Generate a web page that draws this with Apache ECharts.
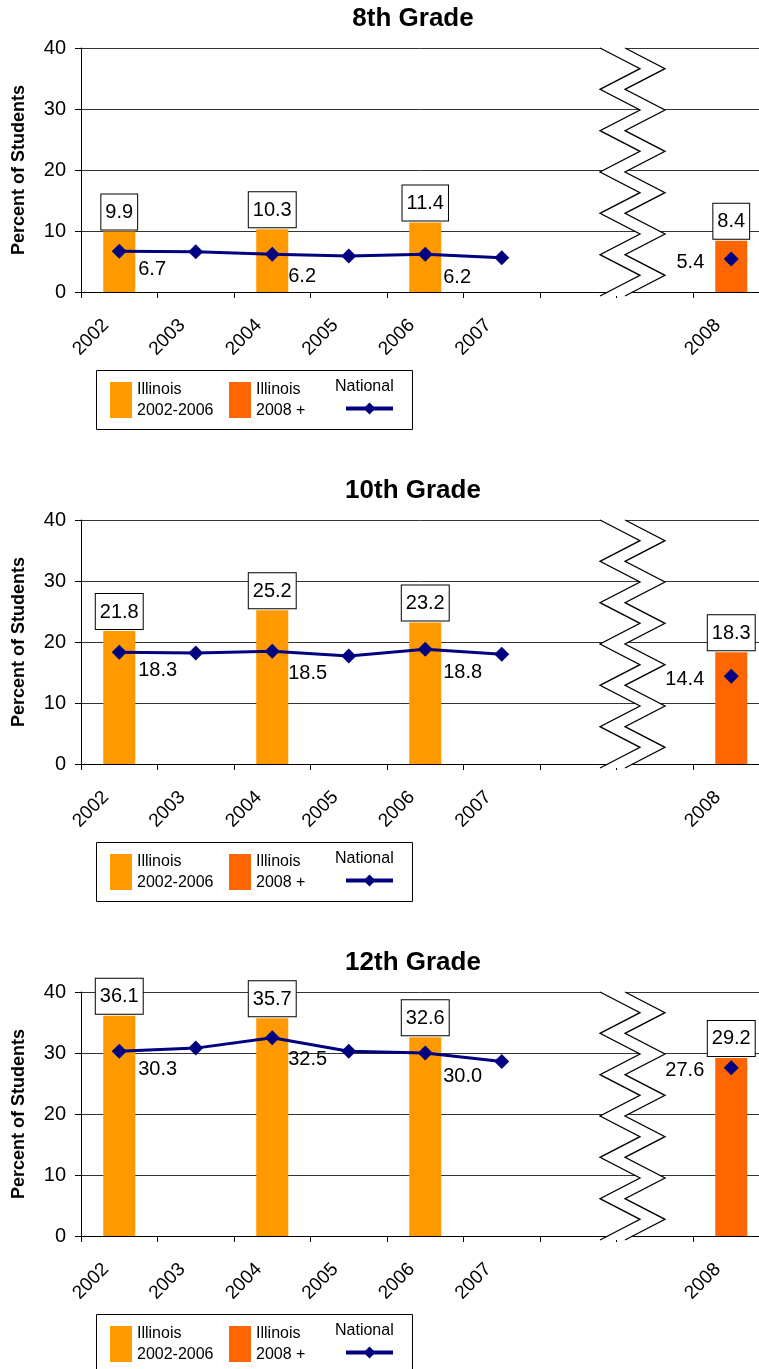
<!DOCTYPE html>
<html>
<head>
<meta charset="utf-8">
<script src="https://cdn.jsdelivr.net/npm/echarts@6/dist/echarts.min.js"></script>
<style>
html,body{margin:0;padding:0;background:#fff;}
#chart{width:759px;height:1369px;}
</style>
</head>
<body>
<div id="chart"></div>
<script>
// ---------- data ----------
const categories = ['2002', '2003', '2004', '2005', '2006', '2007', '', '', '2008'];
const panelTitles = ['8th Grade', '10th Grade', '12th Grade'];
const yAxisName = 'Percent of Students';
const seriesNames = ['Illinois 2002-2006', 'Illinois 2008 +', 'National'];

const g8Illinois      = [9.9, null, 10.3, null, 11.4, null, null, null, null];
const g8Illinois2008  = [null, null, null, null, null, null, null, null, 8.4];
const g8National      = [6.7, 6.6, 6.2, 5.9, 6.2, 5.6, null, null, 5.4];

const g10Illinois     = [21.8, null, 25.2, null, 23.2, null, null, null, null];
const g10Illinois2008 = [null, null, null, null, null, null, null, null, 18.3];
const g10National     = [18.3, 18.2, 18.5, 17.7, 18.8, 18.0, null, null, 14.4];

const g12Illinois     = [36.1, null, 35.7, null, 32.6, null, null, null, null];
const g12Illinois2008 = [null, null, null, null, null, null, null, null, 29.2];
const g12National     = [30.3, 30.8, 32.5, 30.3, 30.0, 28.6, null, null, 27.6];

// which National points carry a value label
const nationalLabelled = [true, false, true, false, true, false, false, false, true];

// ---------- layout / style ----------
const FONT = "'Liberation Sans', Arial, Helvetica, sans-serif";
const PANEL_STEP = 472;
const GRID_TOP = 48, GRID_H = 244, GRID_LEFT = 81, GRID_W = 688.5;
const NAVY = '#000080', ORANGE = '#FF9900', DARK_ORANGE = '#FF6600';
// label offsets for the labelled national points (index -> [dx, dy, align])
const natLabelPos = {0: [19, 18, 'left'], 2: [16, 22, 'left'], 4: [18, 23, 'left'], 8: [-27, 3, 'right']};
const fmt1 = p => (p.value == null ? '' : Number(p.value).toFixed(1));

const panels = [
  {title: panelTitles[0], il: g8Illinois,  il08: g8Illinois2008,  nat: g8National},
  {title: panelTitles[1], il: g10Illinois, il08: g10Illinois2008, nat: g10National},
  {title: panelTitles[2], il: g12Illinois, il08: g12Illinois2008, nat: g12National}
];

const chart = echarts.init(document.getElementById('chart'), null, {renderer: 'canvas'});

const title = [], grid = [], xAxis = [], yAxis = [], series = [], legend = [], graphic = [];

const barLabel = {
  show: true, position: 'top', distance: 2, formatter: fmt1,
  fontSize: 20, lineHeight: 20, color: '#000', fontFamily: FONT,
  backgroundColor: '#fff', borderColor: '#000', borderWidth: 1,
  padding: [8, 4, 7, 4]
};

panels.forEach((p, i) => {
  const dy = PANEL_STEP * i;
  const top = GRID_TOP + dy;
  title.push({
    text: p.title, left: 413, top: 6 + dy, textAlign: 'center', padding: 0,
    textStyle: {fontSize: 26, lineHeight: 26, fontWeight: 'bold', color: '#000', fontFamily: FONT}
  });
  grid.push({left: GRID_LEFT, width: GRID_W, top: top, height: GRID_H,
    containLabel: false, outerBoundsMode: 'none'});
  xAxis.push({
    type: 'category', gridIndex: i, data: categories, boundaryGap: true,
    axisLine: {show: true, lineStyle: {color: '#000', width: 1}},
    axisTick: {show: true, interval: 0, length: 6, lineStyle: {color: '#000'}},
    axisLabel: {interval: 0, rotate: 45, margin: 17, padding: [0, 19, 0, 0],
      fontSize: 19, color: '#000', fontFamily: FONT},
    splitLine: {show: false}
  });
  yAxis.push({
    type: 'value', gridIndex: i, min: 0, max: 40, interval: 10,
    name: yAxisName, nameLocation: 'middle', nameGap: 53,
    nameTextStyle: {fontSize: 18, fontWeight: 'bold', color: '#000', fontFamily: FONT},
    axisLine: {show: true, lineStyle: {color: '#000', width: 1}},
    axisTick: {show: true, length: 6, lineStyle: {color: '#000'}},
    axisLabel: {margin: 15, fontSize: 20, color: '#000', fontFamily: FONT},
    splitLine: {show: true, lineStyle: {color: '#333', width: 1}}
  });
  series.push({
    type: 'bar', name: seriesNames[0], xAxisIndex: i, yAxisIndex: i,
    data: p.il, barWidth: 32, barGap: '-100%',
    itemStyle: {color: ORANGE}, label: barLabel, z: 2
  });
  series.push({
    type: 'bar', name: seriesNames[1], xAxisIndex: i, yAxisIndex: i,
    data: p.il08, barWidth: 32, barGap: '-100%',
    itemStyle: {color: DARK_ORANGE}, label: barLabel, z: 2
  });
  series.push({
    type: 'line', name: seriesNames[2], xAxisIndex: i, yAxisIndex: i,
    data: p.nat.map((v, k) => {
      if (!nationalLabelled[k] || v == null) return v;
      const pos = natLabelPos[k];
      return {value: v, label: {show: true, position: 'inside', align: pos[2],
        verticalAlign: 'middle', offset: [pos[0], pos[1]]}};
    }),
    symbol: 'diamond', symbolSize: 15, showSymbol: true, connectNulls: false,
    lineStyle: {color: NAVY, width: 3}, itemStyle: {color: NAVY},
    label: {show: false, formatter: fmt1, fontSize: 20, color: '#000', fontFamily: FONT},
    z: 5
  });
  legend.push({
    data: [seriesNames[0], seriesNames[1]], left: 110, top: 377 + dy,
    orient: 'horizontal', itemWidth: 22, itemHeight: 36, itemGap: 15.5, padding: 0,
    icon: 'rect', selectedMode: false,
    formatter: n => n.replace(' ', '\n'),
    textStyle: {fontSize: 16, lineHeight: 21, color: '#000', fontFamily: FONT, padding: [0, 0, 4, 0]}
  });
  legend.push({
    data: [seriesNames[2]], left: 344, top: 401 + dy,
    itemWidth: 47, itemHeight: 15, padding: 0, selectedMode: false,
    formatter: () => '',
    lineStyle: {width: 4},
    textStyle: {fontSize: 16, color: '#000', fontFamily: FONT}
  });

  // legend frame + "National" caption above its line icon
  graphic.push({
    type: 'rect', z: 10, silent: true,
    shape: {x: 96.5, y: 370.5 + dy, width: 316, height: 59},
    style: {fill: 'none', stroke: '#000', lineWidth: 1}
  });
  graphic.push({
    type: 'text', z: 10, silent: true,
    style: {text: seriesNames[2], x: 335, y: 386.5 + dy, align: 'left', verticalAlign: 'middle',
      font: '16px ' + FONT, fill: '#000'}
  });

  // axis break (zig-zag band) between 2007 and 2008
  const bottom = top + GRID_H + 4;
  const step = (bottom - top) / 12;
  const leftPts = [], rightPts = [];
  for (let k = 0; k <= 12; k++) {
    const y = top + k * step;
    const xl = (k % 2 === 0) ? 600 : 640;
    leftPts.push([xl, y]);
    rightPts.push([xl + 25, y]);
  }
  graphic.push({
    type: 'polygon', z: 20, silent: true,
    shape: {points: leftPts.concat(rightPts.slice().reverse())},
    style: {fill: '#fff', stroke: 'none'}
  });
  graphic.push({
    type: 'polyline', z: 21, silent: true,
    shape: {points: leftPts}, style: {stroke: '#000', lineWidth: 1.3, fill: 'none'}
  });
  graphic.push({
    type: 'polyline', z: 21, silent: true,
    shape: {points: rightPts}, style: {stroke: '#000', lineWidth: 1.3, fill: 'none'}
  });
});

chart.setOption({
  animation: false,
  backgroundColor: '#fff',
  title, grid, xAxis, yAxis, series, legend, graphic,
  tooltip: {show: false}
});
</script>
</body>
</html>
